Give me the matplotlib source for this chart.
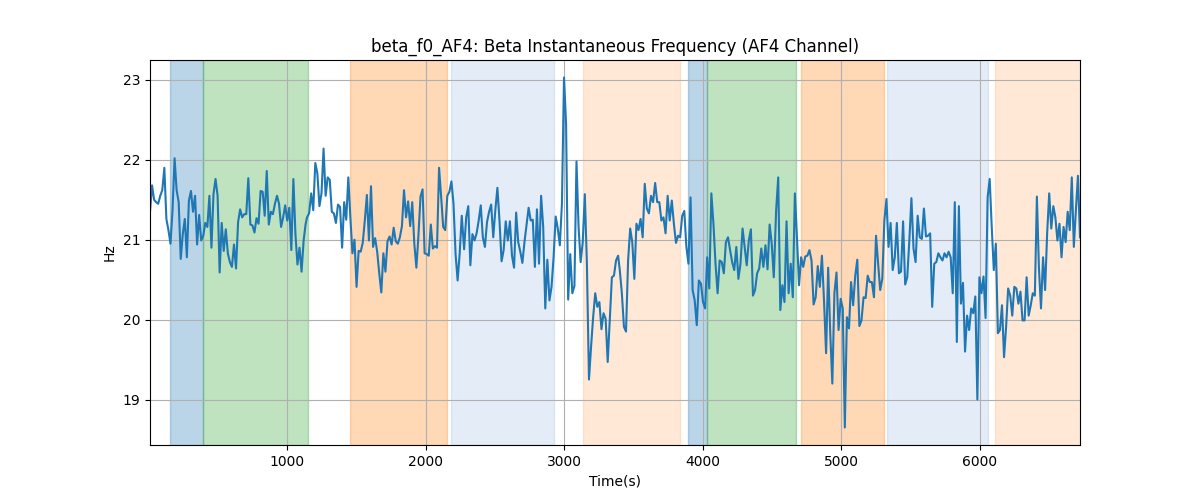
import numpy as np
import matplotlib
matplotlib.use("Agg")
import matplotlib.pyplot as plt

# Segment time ranges (s) over which the readings below were taken
seg_bounds = [(10, 1134), (1144, 2261), (2278, 3390), (3402, 4514), (4531, 5628), (5643, 6725)]

hz_seg1 = [21.35, 21.68, 21.50, 21.47, 21.45, 21.55, 21.62, 21.90, 21.26, 21.12, 20.95, 21.37, 22.02,
           21.62, 21.47, 20.76, 21.07, 21.26, 20.78, 21.49, 21.61, 21.35, 21.55, 20.94, 21.31, 20.99,
           21.05, 21.21, 21.16, 21.55, 20.90, 21.57, 21.76, 21.55, 20.59, 21.21, 20.86, 21.13, 20.83,
           20.72, 20.66, 20.94, 20.64, 21.22, 21.38, 21.28, 21.32, 21.32, 21.77, 21.19, 21.18, 21.09,
           21.27, 21.20, 21.61, 21.60, 21.30, 21.86, 21.19, 21.35, 21.32, 21.45, 21.55, 21.45, 21.16,
           21.28, 21.43, 21.24, 21.40, 20.87, 21.76, 21.07, 20.69, 20.90, 20.60, 20.99, 21.20]

hz_seg2 = [21.28, 21.33, 21.58, 21.37, 21.96, 21.83, 21.42, 21.58, 22.14, 21.55, 21.78, 21.75, 21.35,
           21.33, 21.21, 21.44, 21.41, 20.90, 21.47, 21.25, 21.78, 21.28, 20.83, 21.00, 20.41, 20.86,
           20.85, 20.96, 21.24, 21.56, 20.99, 21.67, 20.91, 21.02, 20.85, 20.58, 20.34, 20.83, 20.60,
           20.98, 21.04, 20.94, 21.15, 20.98, 20.95, 21.03, 21.17, 21.62, 21.28, 21.48, 21.17, 21.47,
           20.95, 20.65, 21.05, 21.54, 21.63, 20.83, 20.82, 20.80, 21.19, 20.89, 20.92, 20.90, 21.90,
           21.54, 21.16, 21.12, 21.55, 21.60, 21.73, 21.45, 20.82, 20.49, 20.83, 21.30]

hz_seg3 = [20.88, 21.28, 21.42, 20.68, 21.07, 20.99, 21.08, 21.24, 21.43, 21.03, 20.91, 21.22, 21.35,
           21.44, 21.03, 21.37, 21.65, 21.24, 20.73, 20.87, 21.23, 20.99, 21.23, 20.80, 20.65, 21.34,
           20.97, 20.85, 20.71, 20.97, 21.18, 21.40, 21.24, 21.25, 20.66, 21.38, 20.70, 21.55, 21.16,
           20.14, 20.75, 20.24, 20.41, 20.78, 21.29, 21.14, 20.93, 21.45, 23.03, 22.45, 20.25, 20.82,
           20.33, 20.42, 21.98, 21.16, 20.72, 20.97, 21.57, 20.70, 19.25, 19.66, 20.03, 20.33, 20.16,
           20.22, 19.88, 20.08, 20.01, 19.47, 19.99, 20.53, 20.55, 20.74, 20.80]

hz_seg4 = [20.62, 20.33, 19.91, 19.85, 20.74, 21.14, 20.97, 20.51, 21.20, 21.12, 21.26, 21.03, 21.70,
           21.39, 21.33, 21.55, 21.47, 21.71, 21.47, 21.47, 21.24, 21.28, 21.08, 21.55, 21.24, 21.49,
           21.20, 20.96, 21.05, 21.03, 21.30, 21.36, 20.91, 20.70, 21.53, 20.37, 20.24, 19.93, 20.49,
           20.45, 20.22, 20.14, 20.78, 20.39, 21.58, 21.20, 20.70, 20.33, 20.74, 20.72, 20.58, 20.97,
           21.03, 20.87, 20.72, 20.62, 20.91, 20.51, 20.70, 21.14, 20.91, 20.68, 20.99, 21.13, 20.30,
           20.37, 20.58, 20.64, 20.89, 20.66, 20.93, 20.63, 21.19, 20.95, 20.53]

hz_seg5 = [21.37, 21.78, 20.12, 20.43, 20.22, 21.23, 20.33, 20.70, 20.28, 21.58, 21.03, 20.43, 20.78,
           20.66, 20.79, 20.80, 20.87, 20.74, 20.19, 20.28, 20.67, 20.41, 20.80, 20.24, 19.58, 20.65,
           19.83, 19.20, 20.33, 20.59, 19.87, 20.26, 20.14, 18.65, 20.03, 19.89, 20.47, 20.18, 20.55,
           20.75, 19.92, 19.99, 20.28, 20.27, 20.55, 20.47, 20.47, 20.28, 21.05, 20.70, 20.37, 20.51,
           21.24, 21.51, 20.91, 21.21, 20.62, 20.78, 21.21, 20.58, 20.60, 21.23, 20.44, 20.53, 20.99,
           21.52, 20.89, 20.72, 21.30, 21.03, 21.01, 21.39, 21.04, 21.05]

hz_seg6 = [21.08, 20.16, 20.70, 20.72, 20.83, 20.78, 20.74, 20.83, 20.78, 20.85, 20.78, 20.33, 21.47,
           19.72, 21.42, 20.20, 20.46, 19.60, 20.05, 19.87, 20.14, 20.08, 20.29, 19.00, 20.53, 20.33,
           20.54, 20.02, 21.53, 21.76, 21.16, 20.62, 20.95, 19.83, 19.87, 20.18, 19.53, 19.91, 20.39,
           20.30, 20.05, 20.41, 20.39, 20.20, 20.35, 19.99, 19.99, 20.53, 20.05, 20.18, 20.33, 20.30,
           21.54, 20.64, 20.14, 20.78, 20.37, 21.08, 21.58, 21.14, 21.42, 21.28, 20.99, 21.20, 20.78,
           21.16, 20.97, 21.35, 21.12, 21.78, 20.91, 21.37, 21.80, 21.03]

hz_segments = [hz_seg1, hz_seg2, hz_seg3, hz_seg4, hz_seg5, hz_seg6]

# Shaded intervals (s)
span_starts = [154, 393, 1454, 2184, 3137, 3895, 4035, 4709, 5331, 6113]
span_ends = [393, 1149, 2153, 2925, 3835, 4035, 4673, 5313, 6060, 6800]
span_colors = ["tab:blue", "tab:green", "tab:orange", "#4b80ca", "tab:orange",
               "tab:blue", "tab:green", "tab:orange", "#4b80ca", "tab:orange"]
span_alphas = [0.3, 0.3, 0.3, 0.15, 0.17, 0.3, 0.3, 0.3, 0.15, 0.17]

times = np.concatenate([np.linspace(a, b, len(v)) for (a, b), v in zip(seg_bounds, hz_segments)])
values = np.concatenate([np.asarray(v) for v in hz_segments])

fig, ax = plt.subplots(figsize=(12, 5), dpi=100)
for s, e, c, a in zip(span_starts, span_ends, span_colors, span_alphas):
    ax.axvspan(s, e, color=c, alpha=a)
ax.plot(times, values, color="tab:blue", linewidth=1.5)
ax.set_xlim(times[0], times[-1])
ax.grid(True)
ax.set_title("beta_f0_AF4: Beta Instantaneous Frequency (AF4 Channel)")
ax.set_xlabel("Time(s)")
ax.set_ylabel("Hz")
fig.savefig("out.png", dpi=100)
